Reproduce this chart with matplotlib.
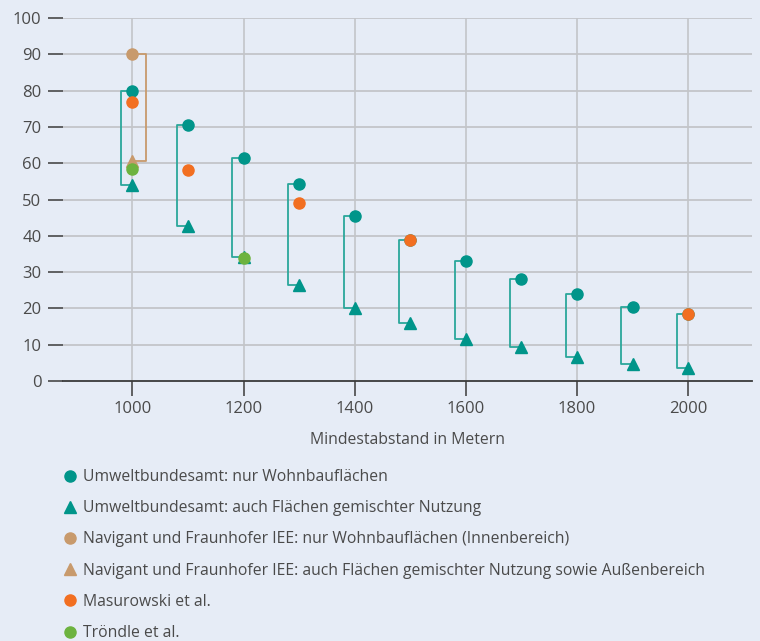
import matplotlib
matplotlib.use("Agg")
import matplotlib.pyplot as plt
from matplotlib.lines import Line2D

plt.rcParams['font.family'] = ['Open Sans', 'DejaVu Sans']

# Data
distances = [1000, 1100, 1200, 1300, 1400, 1500, 1600, 1700, 1800, 1900, 2000]
uba_wohn = [80, 70.5, 61.5, 54.2, 45.4, 38.9, 33.0, 28.0, 24.0, 20.4, 18.4]
uba_misch = [53.9, 42.8, 34.2, 26.4, 20.2, 15.9, 11.6, 9.3, 6.6, 4.7, 3.6]
nav_x = [1000]
nav_wohn = [90.2]
nav_misch = [60.5]
mas_x = [1000, 1100, 1300, 1500, 2000]
mas_vals = [76.9, 58.1, 48.9, 38.9, 18.4]
tro_x = [1000, 1200]
tro_vals = [58.5, 34.0]

yticks = [0, 10, 20, 30, 40, 50, 60, 70, 80, 90, 100]
xticks = [1000, 1200, 1400, 1600, 1800, 2000]

labels = [
    "Umweltbundesamt: nur Wohnbauflächen",
    "Umweltbundesamt: auch Flächen gemischter Nutzung",
    "Navigant und Fraunhofer IEE: nur Wohnbauflächen (Innenbereich)",
    "Navigant und Fraunhofer IEE: auch Flächen gemischter Nutzung sowie Außenbereich",
    "Masurowski et al.",
    "Tröndle et al.",
]

TEAL = "#00958A"
TEAL_L = "#2AA79B"
TAN = "#C89A6C"
ORANGE = "#F26F21"
GREEN = "#6DB33F"
BG = "#E6ECF6"
GRID = "#C3C5C9"
DARK = "#3A3A3A"
TXT = "#4A4A4A"

fig = plt.figure(figsize=(7.6, 6.41), dpi=100, facecolor=BG)
W, H = 760, 641
ax = fig.add_axes([63 / W, 1 - 381 / H, (752 - 63) / W, (381 - 18) / H])
ax.set_facecolor(BG)

ax.set_xlim(875, 2115)
ax.set_ylim(0, 100)

# grid
for yv in yticks[1:]:
    ax.axhline(yv, color=GRID, lw=1.3, zorder=1)
for xv in xticks:
    ax.axvline(xv, color=GRID, lw=1.2, zorder=1)

# brackets
d = 20
for x, hi, lo in zip(distances, uba_wohn, uba_misch):
    ax.plot([x, x - d, x - d, x], [hi, hi, lo, lo], color=TEAL_L, lw=1.3, zorder=2)
for x, hi, lo in zip(nav_x, nav_wohn, nav_misch):
    ax.plot([x, x + 25, x + 25, x], [hi, hi, lo, lo], color=TAN, lw=1.3, zorder=2)

ms = 8
ax.plot(distances, uba_misch, linestyle='none', marker='^', ms=ms + 1, color=TEAL, zorder=4, clip_on=False)
ax.plot(nav_x, nav_misch, linestyle='none', marker='^', ms=ms + 1, color=TAN, zorder=4, clip_on=False)
ax.plot(distances, uba_wohn, linestyle='none', marker='o', ms=ms, color=TEAL, zorder=4, clip_on=False)
ax.plot(nav_x, nav_wohn, linestyle='none', marker='o', ms=ms, color=TAN, zorder=4, clip_on=False)
ax.plot(mas_x, mas_vals, linestyle='none', marker='o', ms=ms, color=ORANGE, zorder=5, clip_on=False)
ax.plot(tro_x, tro_vals, linestyle='none', marker='o', ms=ms, color=GREEN, zorder=6, clip_on=False)

for s in ['top', 'right', 'left']:
    ax.spines[s].set_visible(False)
ax.spines['bottom'].set_color(DARK)
ax.spines['bottom'].set_linewidth(1.3)
ax.spines['bottom'].set_zorder(3)

ax.set_yticks(yticks)
ax.set_xticks(xticks)
ax.set_xticklabels([str(v) for v in xticks])
ax.tick_params(axis='both', length=10.5, width=1.1, color=DARK, labelcolor=TXT, labelsize=12, direction='out')
ax.tick_params(axis='y', pad=5)
ax.tick_params(axis='x', pad=4)
ax.set_xlabel("Mindestabstand in Metern", fontsize=11.3, color=TXT, labelpad=11)

handles = [
    Line2D([], [], linestyle='none', marker='o', ms=ms, color=TEAL),
    Line2D([], [], linestyle='none', marker='^', ms=ms + 1, color=TEAL),
    Line2D([], [], linestyle='none', marker='o', ms=ms, color=TAN),
    Line2D([], [], linestyle='none', marker='^', ms=ms + 1, color=TAN),
    Line2D([], [], linestyle='none', marker='o', ms=ms, color=ORANGE),
    Line2D([], [], linestyle='none', marker='o', ms=ms, color=GREEN),
]
leg = fig.legend(handles, labels, loc='upper left', bbox_to_anchor=(62 / W, 1 - 469 / H),
                 frameon=False, fontsize=11.3, labelcolor=TXT, handlelength=1.0,
                 handletextpad=0.35, labelspacing=0.97, borderpad=0, borderaxespad=0)

fig.savefig("out.png", dpi=100, facecolor=BG)
